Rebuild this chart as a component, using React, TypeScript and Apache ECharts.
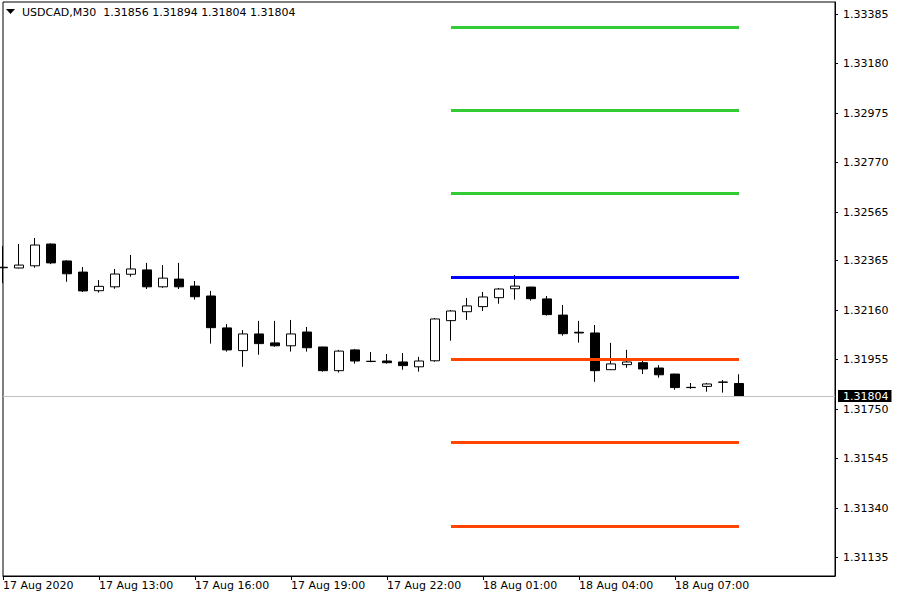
import React, { useEffect, useRef } from "react";
import * as echarts from "echarts";

const SYMBOL = "USDCAD,M30";

const CATEGORIES = [
  "17 Aug 10:00", "17 Aug 10:30", "17 Aug 11:00", "17 Aug 11:30", "17 Aug 12:00", "17 Aug 12:30",
  "17 Aug 13:00", "17 Aug 13:30", "17 Aug 14:00", "17 Aug 14:30", "17 Aug 15:00", "17 Aug 15:30",
  "17 Aug 16:00", "17 Aug 16:30", "17 Aug 17:00", "17 Aug 17:30", "17 Aug 18:00", "17 Aug 18:30",
  "17 Aug 19:00", "17 Aug 19:30", "17 Aug 20:00", "17 Aug 20:30", "17 Aug 21:00", "17 Aug 21:30",
  "17 Aug 22:00", "17 Aug 22:30", "17 Aug 23:00", "17 Aug 23:30",
  "18 Aug 00:00", "18 Aug 00:30", "18 Aug 01:00", "18 Aug 01:30", "18 Aug 02:00", "18 Aug 02:30",
  "18 Aug 03:00", "18 Aug 03:30", "18 Aug 04:00", "18 Aug 04:30", "18 Aug 05:00", "18 Aug 05:30",
  "18 Aug 06:00", "18 Aug 06:30", "18 Aug 07:00", "18 Aug 07:30", "18 Aug 08:00", "18 Aug 08:30",
  "18 Aug 09:00", "18 Aug 09:30", "18 Aug 10:00", "18 Aug 10:30", "18 Aug 11:00", "18 Aug 11:30",
  "18 Aug 12:00",
];

// [open, close, low, high]
const CANDLES = [
  [1.32337, 1.32335, 1.32271, 1.32425],
  [1.32334, 1.32346, 1.32332, 1.32433],
  [1.32343, 1.32429, 1.32335, 1.32458],
  [1.32433, 1.32355, 1.3235, 1.32436],
  [1.32363, 1.3231, 1.32277, 1.32366],
  [1.32317, 1.32239, 1.32235, 1.32338],
  [1.3224, 1.32258, 1.32232, 1.32284],
  [1.32256, 1.32309, 1.32248, 1.3233],
  [1.32308, 1.3233, 1.32298, 1.32388],
  [1.32326, 1.32256, 1.32247, 1.32355],
  [1.32256, 1.32292, 1.32252, 1.32346],
  [1.32288, 1.32256, 1.32247, 1.32355],
  [1.32259, 1.32215, 1.32203, 1.3228],
  [1.32218, 1.32087, 1.32021, 1.32239],
  [1.32086, 1.31995, 1.31988, 1.32102],
  [1.31992, 1.32061, 1.31925, 1.32077],
  [1.32061, 1.32021, 1.31975, 1.32115],
  [1.32024, 1.32012, 1.32008, 1.32115],
  [1.32012, 1.32061, 1.31988, 1.32119],
  [1.32069, 1.32004, 1.31988, 1.3209],
  [1.32007, 1.31909, 1.31905, 1.32008],
  [1.31909, 1.3199, 1.31901, 1.31995],
  [1.31995, 1.31949, 1.31938, 1.31999],
  [1.31948, 1.31947, 1.31944, 1.31986],
  [1.31949, 1.31942, 1.31938, 1.31978],
  [1.31945, 1.3193, 1.31913, 1.31982],
  [1.31925, 1.31949, 1.31905, 1.31966],
  [1.3195, 1.32123, 1.31946, 1.32127],
  [1.32116, 1.32156, 1.32033, 1.3216],
  [1.32153, 1.32177, 1.32119, 1.3221],
  [1.32174, 1.32214, 1.32156, 1.32235],
  [1.32211, 1.32247, 1.32186, 1.32251],
  [1.32248, 1.32259, 1.32203, 1.32305],
  [1.32255, 1.32207, 1.32199, 1.32256],
  [1.32206, 1.32141, 1.32137, 1.32218],
  [1.32139, 1.32062, 1.32054, 1.32181],
  [1.32068, 1.32065, 1.32025, 1.32115],
  [1.32065, 1.31909, 1.31863, 1.32098],
  [1.31913, 1.31937, 1.31912, 1.32024],
  [1.31934, 1.31945, 1.31921, 1.31995],
  [1.31942, 1.31916, 1.31895, 1.31957],
  [1.3192, 1.31892, 1.3188, 1.31932],
  [1.31895, 1.31839, 1.3183, 1.31896],
  [1.3184, 1.31839, 1.31834, 1.31858],
  [1.31844, 1.31854, 1.31822, 1.31858],
  [1.31862, 1.31861, 1.31818, 1.3187],
  [1.31856, 1.31804, 1.31804, 1.31894],
];

const Y_TICKS = [
  1.31135, 1.3134, 1.31545, 1.3175, 1.31955, 1.3216, 1.32365, 1.32565, 1.3277, 1.32975, 1.3318, 1.33385,
];
const Y_MIN = 1.310593;
const Y_MAX = 1.334347;

const X_TICK_LABELS = [
  "17 Aug 2020", "17 Aug 13:00", "17 Aug 16:00", "17 Aug 19:00",
  "17 Aug 22:00", "18 Aug 01:00", "18 Aug 04:00", "18 Aug 07:00",
];
const X_TICK_STEP = 6;

const LEVEL_NAMES = ["R3", "R2", "R1", "PP", "S1", "S2", "S3"];
const LEVEL_VALUES = [1.33331, 1.32988, 1.32644, 1.32297, 1.31957, 1.31614, 1.31266];
const LEVEL_START = "18 Aug 00:00";
const LEVEL_END = "18 Aug 09:00";

const LEVEL_COLORS: Record<string, string> = {
  R3: "#32CD32", R2: "#32CD32", R1: "#32CD32",
  PP: "#0000FF",
  S1: "#FF4500", S2: "#FF4500", S3: "#FF4500",
};

const FONT = "DejaVu Sans";

export default function App() {
  const ref = useRef<HTMLDivElement>(null);

  useEffect(() => {
    if (!ref.current) return;
    const chart = echarts.init(ref.current, undefined, { renderer: "svg" });
    const last = CANDLES[CANDLES.length - 1];
    const lastOHLC = [last[0], last[3], last[2], last[1]];
    const lastClose = last[1];

    const tickShown = (idx: number) =>
      idx % X_TICK_STEP === 0 && idx / X_TICK_STEP < X_TICK_LABELS.length;

    const option: any = {
      animation: false,
      backgroundColor: "#ffffff",
      textStyle: { fontFamily: FONT },
      grid: {
        left: 3,
        right: 65,
        top: 2,
        bottom: 24,
        show: true,
        borderColor: "#000000",
        borderWidth: 1,
        backgroundColor: "transparent",
      },
      xAxis: {
        type: "category",
        data: CATEGORIES,
        boundaryGap: false,
        axisLine: { show: true, lineStyle: { color: "#000000", width: 1 } },
        axisTick: {
          show: true,
          interval: (idx: number) => tickShown(idx),
          length: 4,
          lineStyle: { color: "#000000" },
        },
        axisLabel: {
          interval: (idx: number) => tickShown(idx),
          formatter: (_v: string, idx: number) =>
            tickShown(idx) ? X_TICK_LABELS[idx / X_TICK_STEP] : "",
          align: "left",
          margin: 4,
          color: "#000000",
          fontSize: 11,
          fontFamily: FONT,
        },
        splitLine: { show: false },
      },
      yAxis: {
        type: "value",
        position: "right",
        min: Y_MIN,
        max: Y_MAX,
        axisLine: { show: true, lineStyle: { color: "#000000", width: 1 } },
        axisTick: {
          show: true,
          length: 3,
          customValues: Y_TICKS,
          lineStyle: { color: "#000000" },
        },
        axisLabel: {
          customValues: Y_TICKS,
          formatter: (v: number) => v.toFixed(5),
          margin: 8,
          color: "#000000",
          fontSize: 11,
          fontFamily: FONT,
        },
        splitLine: { show: false },
      },
      graphic: [
        {
          type: "polygon",
          shape: { points: [[6, 9], [15, 9], [10.5, 14]] },
          style: { fill: "#000000" },
          z: 100,
        },
        {
          type: "text",
          x: 22,
          y: 12,
          style: {
            text: `${SYMBOL}  ${lastOHLC.map((v) => v.toFixed(5)).join(" ")}`,
            font: `11px '${FONT}'`,
            fill: "#000000",
            verticalAlign: "middle",
          },
          z: 100,
        },
      ],
      series: [
        {
          type: "candlestick",
          data: CANDLES,
          barWidth: 10,
          clip: true,
          z: 3,
          itemStyle: {
            color: "#ffffff",
            color0: "#000000",
            borderColor: "#000000",
            borderColor0: "#000000",
            borderWidth: 1,
          },
          markLine: {
            silent: true,
            symbol: ["none", "none"],
            animation: false,
            data: [
              [
                {
                  coord: [CATEGORIES[0], lastClose],
                  lineStyle: { color: "#C0C0C0", width: 1, type: "solid" },
                  label: {
                    show: true,
                    position: "end",
                    distance: 3,
                    formatter: lastClose.toFixed(5),
                    backgroundColor: "#000000",
                    color: "#ffffff",
                    fontSize: 11,
                    fontFamily: FONT,
                    padding: [1, 3, 0, 5],
                  },
                },
                { coord: [CATEGORIES[CATEGORIES.length - 1], lastClose] },
              ],
              ...LEVEL_NAMES.map((name, i) => [
                {
                  coord: [LEVEL_START, LEVEL_VALUES[i]],
                  lineStyle: { color: LEVEL_COLORS[name], width: 3, type: "solid" },
                  label: { show: false },
                },
                { coord: [LEVEL_END, LEVEL_VALUES[i]] },
              ]),
            ],
          },
        },
      ],
    };

    chart.setOption(option);
    return () => chart.dispose();
  }, []);

  return (
    <div
      ref={ref}
      style={{ position: "fixed", left: 0, top: 0, width: 900, height: 600, background: "#fff" }}
    />
  );
}
